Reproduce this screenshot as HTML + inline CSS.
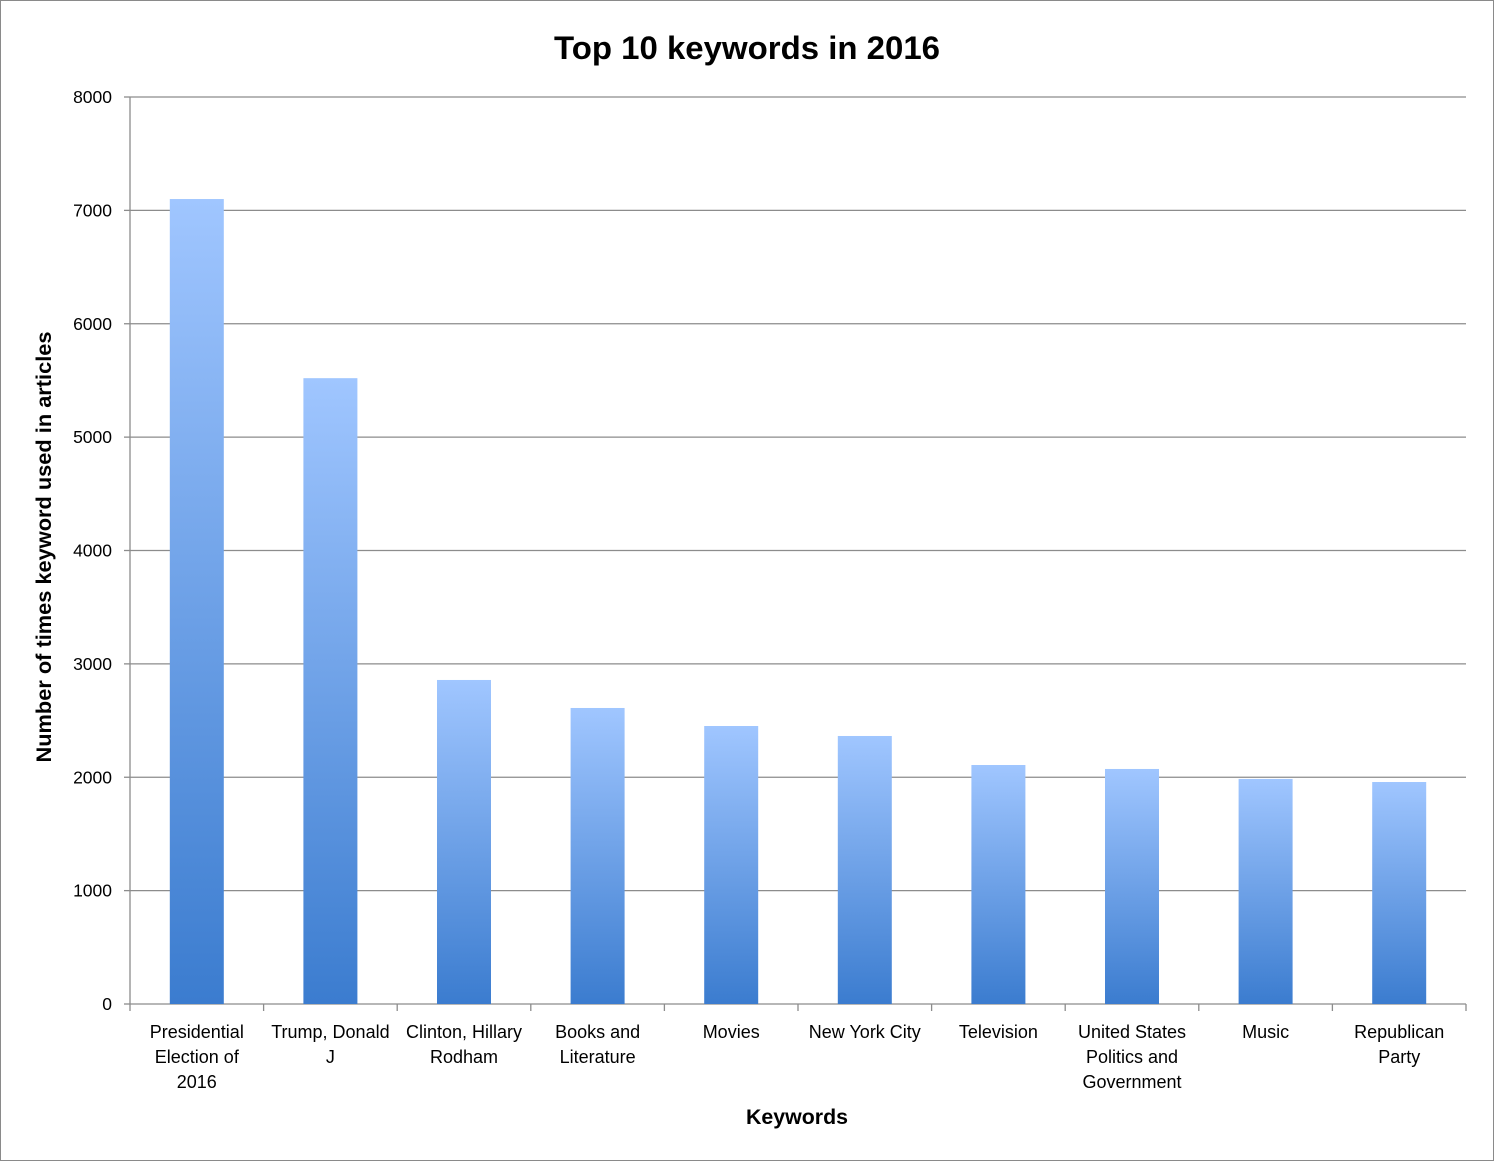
<!DOCTYPE html>
<html><head><meta charset="utf-8"><style>
html,body{margin:0;padding:0;background:#fff;}
svg text{font-family:"Liberation Sans",sans-serif;fill:#000;}
</style></head><body>
<svg width="1494" height="1161" viewBox="0 0 1494 1161">
<defs>
<linearGradient id="barGrad" x1="0" y1="0" x2="0" y2="1">
<stop offset="0" stop-color="#a0c6ff"/>
<stop offset="1" stop-color="#3b7ccf"/>
</linearGradient>
</defs>
<rect x="0.5" y="0.5" width="1493" height="1160" fill="#fff" stroke="#8a8a8a"/>
<text x="747" y="59" text-anchor="middle" font-size="32" font-weight="bold" textLength="386" lengthAdjust="spacingAndGlyphs">Top 10 keywords in 2016</text>
<g id="grid"></g>
<g id="bars"></g>
<g id="axes"></g>
<text x="797" y="1124" text-anchor="middle" font-size="21" font-weight="bold" textLength="102" lengthAdjust="spacingAndGlyphs">Keywords</text>
<text transform="translate(51,547) rotate(-90)" text-anchor="middle" font-size="21" font-weight="bold" textLength="431" lengthAdjust="spacingAndGlyphs">Number of times keyword used in articles</text>
</svg>
<script>
const categories = [["Presidential","Election of","2016"],["Trump, Donald","J"],["Clinton, Hillary","Rodham"],["Books and","Literature"],["Movies"],["New York City"],["Television"],["United States","Politics and","Government"],["Music"],["Republican","Party"]];
const values = [7100, 5520, 2858, 2611, 2452, 2364, 2108, 2073, 1985, 1958];
const yTicks = [0, 1000, 2000, 3000, 4000, 5000, 6000, 7000, 8000];

const NS = "http://www.w3.org/2000/svg";
const L = 130, R = 1466, T = 97, B = 1004, yMax = 8000;
const y = v => B - (v / yMax) * (B - T);
const band = (R - L) / categories.length;
const x = i => L + band * i;
function mk(tag, attrs, parent) {
  const e = document.createElementNS(NS, tag);
  for (const k in attrs) e.setAttribute(k, attrs[k]);
  parent.appendChild(e);
  return e;
}
const grid = document.getElementById("grid");
const bars = document.getElementById("bars");
const axes = document.getElementById("axes");
yTicks.forEach(t => {
  const gl = mk("line", {x1: L, x2: R, y1: y(t), y2: y(t), stroke: "#8c8c8c", "stroke-width": 1.3}, grid);
  
  
  const tk = mk("line", {x1: L - 6, x2: L, y1: y(t), y2: y(t), stroke: "#8c8c8c", "stroke-width": 1.3}, axes);
  
  
  const lb = mk("text", {x: 112, y: y(t) + 6, "text-anchor": "end", "font-size": 17.5}, axes);
  lb.textContent = t;
  
  
});
const yl = mk("line", {x1: L, x2: L, y1: T, y2: B, stroke: "#8c8c8c", "stroke-width": 1.3}, axes);


const bw = 54;
values.forEach((v, i) => {
  const cx = x(i) + band / 2;
  const r = mk("rect", {x: cx - bw / 2, y: y(v), width: bw, height: B - y(v), fill: "url(#barGrad)"}, bars);
  
  
  categories[i].forEach((line, j) => {
    const tx = mk("text", {x: cx, y: 1038 + j * 25, "text-anchor": "middle", "font-size": 18}, axes);
    tx.textContent = line;
    
    
  });
});
for (let i = 0; i <= categories.length; i++) {
  const tk = mk("line", {x1: x(i), x2: x(i), y1: B, y2: B + 7, stroke: "#8c8c8c", "stroke-width": 1.3}, axes);
  
  
}
</script>
</body></html>
